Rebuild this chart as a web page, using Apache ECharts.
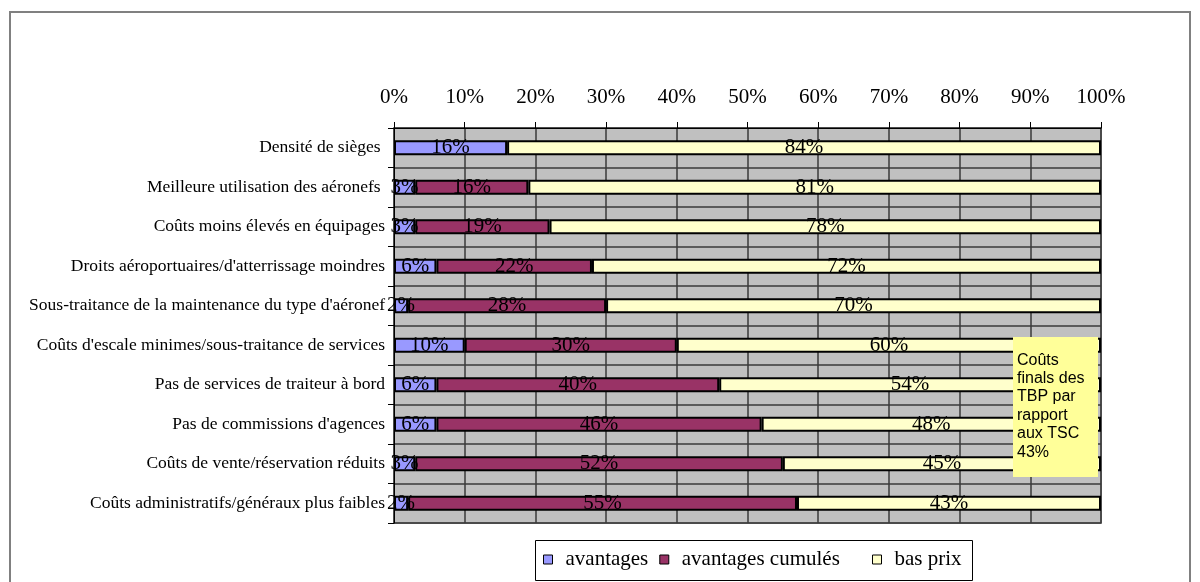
<!DOCTYPE html>
<html>
<head>
<meta charset="utf-8">
<script src="https://cdn.jsdelivr.net/npm/echarts@6/dist/echarts.min.js"></script>
<style>
  html, body { margin: 0; padding: 0; background: #fff; }
  #chart { width: 1200px; height: 582px; }
</style>
</head>
<body>
<div id="chart"></div>
<script>
// Cost drivers of low-cost carriers vs. traditional carriers (share of cost gap)
const categories = [
  "Densité de sièges ",
  "Meilleure utilisation des aéronefs ",
  "Coûts moins élevés en équipages",
  "Droits aéroportuaires/d'atterrissage moindres",
  "Sous-traitance de la maintenance du type d'aéronef",
  "Coûts d'escale minimes/sous-traitance de services",
  "Pas de services de traiteur à bord",
  "Pas de commissions d'agences",
  "Coûts de vente/réservation réduits",
  "Coûts administratifs/généraux plus faibles"
];
const avantages = [16, 3, 3, 6, 2, 10, 6, 6, 3, 2];
const avantagesCumules = [null, 16, 19, 22, 28, 30, 40, 46, 52, 55];
const basPrix = [84, 81, 78, 72, 70, 60, 54, 48, 45, 43];
const seriesNames = ["avantages", "avantages cumulés", "bas prix"];
const noteLines = ["Coûts", "finals des", "TBP par", "rapport", "aux TSC", "43%"];

const serif = '"Liberation Serif", "Times New Roman", serif';

const labelStyle = {
  show: true,
  position: 'inside',
  formatter: p => p.value == null ? '' : p.value + '%',
  fontFamily: serif,
  fontSize: 21,
  color: '#000'
};

function barSeries(name, data, color) {
  return {
    name: name,
    type: 'bar',
    stack: 'total',
    data: data,
    barWidth: '38%',
    itemStyle: { color: color, borderColor: '#000', borderWidth: 2 },
    label: labelStyle,
    emphasis: { disabled: true }
  };
}

// legend entries share one framed box; the last entry sits further right
function legendBlock(names, left) {
  return {
    left: left, top: 549,
    padding: 0,
    itemWidth: 9, itemHeight: 9, itemGap: 11,
    icon: 'rect',
    textStyle: { fontFamily: serif, fontSize: 21, color: '#000', padding: [0, 0, 0, 8] },
    itemStyle: { borderColor: '#000', borderWidth: 1 },
    data: names
  };
}

const chart = echarts.init(document.getElementById('chart'), null, { renderer: 'canvas' });
chart.setOption({
  animation: false,
  backgroundColor: '#fff',
  grid: {
    left: 394, top: 128, right: 99, bottom: 59,
    show: true,
    backgroundColor: '#c0c0c0',
    borderColor: '#808080',
    borderWidth: 2
  },
  xAxis: {
    type: 'value',
    position: 'top',
    min: 0, max: 100, interval: 10,
    axisLine: { show: true, lineStyle: { color: '#000', width: 1 } },
    axisTick: { show: true, length: 6, lineStyle: { color: '#000' } },
    axisLabel: {
      formatter: '{value}%',
      fontFamily: serif, fontSize: 21, color: '#000', margin: 20
    },
    splitLine: { show: true, lineStyle: { color: '#3a3a3a', width: 1.5 } }
  },
  yAxis: {
    type: 'category',
    inverse: true,
    data: categories,
    axisLine: { show: true, lineStyle: { color: '#000', width: 1 } },
    axisTick: { show: true, length: 6, lineStyle: { color: '#000' } },
    axisLabel: { fontFamily: serif, fontSize: 17.5, color: '#000', margin: 9 },
    splitLine: { show: true, lineStyle: { color: '#3a3a3a', width: 1.5 } }
  },
  legend: [
    legendBlock([seriesNames[0], seriesNames[1]], 543),
    legendBlock([seriesNames[2]], 872)
  ],
  graphic: [
    {
      type: 'rect',
      shape: { x: 10, y: 12, width: 1180, height: 620 },
      style: { fill: 'none', stroke: '#808080', lineWidth: 2 },
      silent: true, z: 100
    },
    {
      type: 'rect',
      shape: { x: 535.5, y: 540.5, width: 437, height: 40 },
      style: { fill: 'none', stroke: '#000', lineWidth: 1 },
      silent: true, z: 100
    },
    {
      type: 'rect',
      shape: { x: 1013, y: 337, width: 85, height: 140 },
      style: { fill: '#ffff99' },
      silent: true, z: 100
    },
    {
      type: 'text',
      x: 1017, y: 351,
      silent: true, z: 101,
      style: {
        text: noteLines.join('\n'),
        font: '16px "Liberation Sans", Arial, sans-serif',
        lineHeight: 18.4,
        fill: '#000'
      }
    }
  ],
  series: [
    barSeries(seriesNames[0], avantages, '#9999ff'),
    barSeries(seriesNames[1], avantagesCumules, '#993366'),
    barSeries(seriesNames[2], basPrix, '#ffffcc')
  ]
});
</script>
</body>
</html>
